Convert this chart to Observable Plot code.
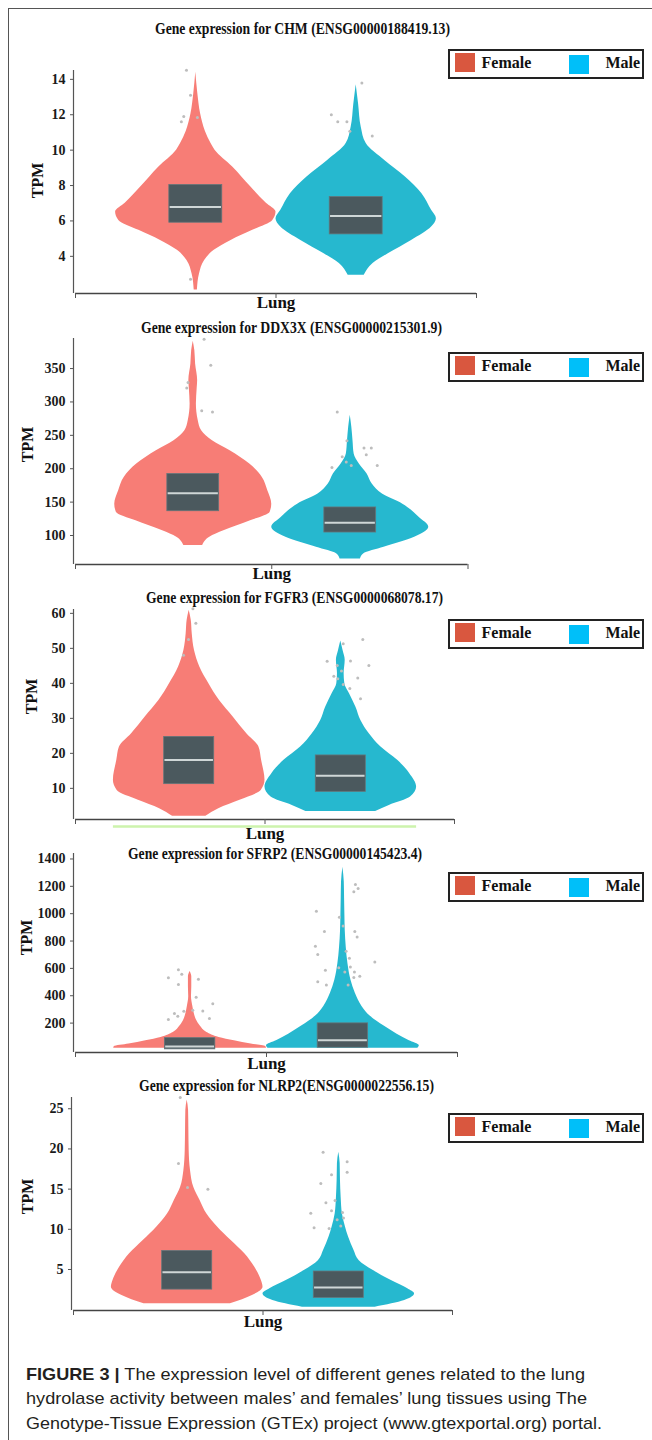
<!DOCTYPE html>
<html><head><meta charset="utf-8">
<script src="https://cdn.jsdelivr.net/npm/d3@7"></script>
<script src="https://cdn.jsdelivr.net/npm/@observablehq/plot@0.6"></script>
<style>
body{margin:0;background:#fff;}
#page{position:relative;width:652px;height:1440px;overflow:hidden;background:#fff;}
#frame{position:absolute;left:8px;top:8px;width:700px;height:1500px;border-left:1.5px solid #555;border-top:1.5px solid #555;}
.panel{position:absolute;left:0;}
.legend{position:absolute;left:448px;width:196px;height:30px;border:2px solid #222;box-sizing:border-box;background:#fff;}
.legend .sw{position:absolute;}
.legend .lab{position:absolute;font:bold 16px 'Liberation Serif',serif;line-height:normal;color:#111;white-space:nowrap;}
</style></head>
<body><div id="page"><div id="frame"></div></div>
<script>
// ---------- data ----------
const sexes = ["Female", "Male"];
const tissue = "Lung";
const geneTitles = [
  "Gene expression for CHM (ENSG00000188419.13)",
  "Gene expression for DDX3X (ENSG00000215301.9)",
  "Gene expression for FGFR3 (ENSG0000068078.17)",
  "Gene expression for SFRP2 (ENSG00000145423.4)",
  "Gene expression for NLRP2(ENSG0000022556.15)"
];
const yTicksCHM = [4, 6, 8, 10, 12, 14];
const yTicksDDX3X = [100, 150, 200, 250, 300, 350];
const yTicksFGFR3 = [10, 20, 30, 40, 50, 60];
const yTicksSFRP2 = [200, 400, 600, 800, 1000, 1200, 1400];
const yTicksNLRP2 = [5, 10, 15, 20, 25];

// violin density profiles: [TPM, relative half-width]
const chmFemale = [[14.4,0],[13.2,0.025],[12.06,0.06],[11.06,0.12],[10.37,0.19],[10,0.24],[9.05,0.46],[7.9,0.69],[7.0,0.88],[6.5,1.0],[6.03,0.96],[5.47,0.71],[4.9,0.44],[4.34,0.23],[3.77,0.11],[3.0,0.046],[2.1,0.02]];
const chmMale = [[13.7,0],[12.6,0.03],[11.3,0.063],[10.37,0.125],[9.4,0.36],[8.5,0.61],[7.54,0.82],[6.6,0.94],[6.13,1.0],[5.66,0.94],[4.9,0.69],[4.15,0.40],[3.6,0.21],[2.93,0.10]];
const ddx3xFemale = [[391,0],[377,0.02],[357,0.03],[332,0.056],[320,0.05],[297,0.04],[272,0.064],[257,0.107],[242,0.245],[227,0.47],[207,0.72],[187,0.88],[167,0.95],[147,1.0],[135,0.98],[122,0.73],[107,0.39],[97.5,0.21],[85,0.12]];
const ddx3xMale = [[280,0],[262,0.02],[242,0.035],[222,0.05],[207,0.116],[192,0.215],[177,0.28],[162,0.41],[147,0.67],[127,0.88],[112.5,1.0],[97.5,0.82],[82.5,0.43],[72.5,0.17],[65,0.13]];
const fgfr3Female = [[60.9,0],[58,0.027],[54.2,0.04],[49.4,0.07],[44.7,0.14],[39.9,0.26],[35.1,0.40],[30.4,0.58],[25.6,0.76],[21.8,0.92],[18,0.955],[12.3,1.0],[9.4,0.95],[6.6,0.67],[4.2,0.39],[2.0,0.22]];
const fgfr3Male = [[52.1,0],[49.4,0.03],[46.6,0.058],[42.8,0.044],[39.9,0.053],[37,0.115],[33.2,0.2],[29.4,0.265],[25.6,0.376],[21.8,0.53],[18,0.75],[14.2,0.91],[10.4,1.0],[7.5,0.92],[5.1,0.64],[3.4,0.46]];
const sfrp2Female = [[578,0],[538,0.022],[466,0.022],[394,0.018],[322,0.036],[274,0.053],[226,0.08],[178,0.133],[131,0.22],[95,0.38],[71,0.58],[47,0.8],[28,0.99],[16,1.0]];
const sfrp2Male = [[1340,0],[1232,0.018],[1113,0.022],[993,0.026],[873,0.031],[753,0.044],[634,0.066],[514,0.106],[418,0.163],[322,0.25],[250,0.36],[178,0.54],[119,0.71],[71,0.87],[35,1.0],[16,0.98]];
const nlrp2Female = [[26.1,0],[24.8,0.018],[22.3,0.022],[19.8,0.026],[17.3,0.044],[15.2,0.088],[13.6,0.17],[11.9,0.26],[10.3,0.40],[8.6,0.58],[6.95,0.76],[5.3,0.89],[3.6,0.98],[2.8,1.0],[1.76,0.86],[0.73,0.57]];
const nlrp2Male = [[19.6,0],[18.2,0.018],[16.1,0.022],[14,0.031],[11.9,0.048],[10.3,0.088],[9.0,0.13],[7.4,0.2],[6.1,0.27],[4.9,0.45],[3.6,0.70],[2.6,0.91],[1.97,1.0],[1.14,0.87],[0.31,0.48]];

// box statistics [q1, median, q3] for Female, Male
const chmBoxes = [[5.90, 6.79, 8.03], [5.24, 6.28, 7.35]];
const ddx3xBoxes = [[136.4, 163.4, 192], [104.5, 119, 142]];
const fgfr3Boxes = [[11.2, 18.1, 24.7], [9.0, 13.6, 19.4]];
const sfrp2Boxes = [[8, 28, 90], [20, 75, 198]];
const nlrp2Boxes = [[2.5, 4.67, 7.3], [1.47, 2.76, 4.75]];

// outlier samples [jitter offset from violin centre, TPM]
const chmOutFemale = [[-0.116,14.52],[-0.066,13.1],[-0.15,11.9],[-0.18,11.6],[0.02,11.85],[-0.066,2.7]];
const chmOutMale = [[0.071,13.8],[-0.31,12.0],[-0.23,11.6],[-0.116,11.6],[-0.079,11.07],[0.2,10.8]];
const ddx3xOutFemale = [[0.138,394],[0.223,355],[-0.066,329],[-0.083,321],[0.108,287],[0.245,285]];
const ddx3xOutMale = [[-0.166,285],[-0.042,242],[0.175,231],[0.268,231],[0.204,221],[-0.102,218],[-0.233,202],[0.013,205],[0.344,205],[-0.051,210]];
const fgfr3OutFemale = [[0.049,61.3],[0.088,57.2],[-0.009,52.5],[-0.075,48]];
const fgfr3OutMale = [[0.29,52.5],[0.032,51.3],[-0.18,46.3],[-0.047,45.1],[0.128,46.4],[0.37,45.1],[0.009,43.5],[-0.092,42],[-0.04,41.3],[0.224,41.5],[0.032,39.7],[0.119,38.5],[0.26,35.6]];
const sfrp2OutFemale = [[-0.153,590],[-0.109,557],[-0.284,531],[0.109,521],[-0.153,483],[0.079,389],[0.297,341],[-0.205,270],[-0.161,250],[-0.082,286],[0.035,293],[0.166,289],[-0.284,226],[0.253,233]];
const sfrp2OutMale = [[0.164,1213],[0.199,1184],[0.143,1160],[-0.347,1017],[-0.046,974],[0.003,909],[-0.242,869],[0.156,869],[0.186,830],[-0.36,761],[-0.329,701],[0.042,725],[0.085,674],[0.418,646],[-0.229,586],[-0.054,605],[0.098,610],[0.025,574],[0.151,574],[0.221,543],[0.143,533],[-0.329,502],[-0.216,478],[0.068,478]];
const nlrp2OutFemale = [[-0.092,26.4],[-0.115,18.2],[0.273,15.0],[0.004,15.2]];
const nlrp2OutMale = [[-0.207,19.6],[0.11,18.4],[0.11,17.1],[-0.096,16.8],[-0.237,15.7],[-0.049,13.6],[-0.17,13.3],[-0.096,12.3],[0.049,12.1],[-0.37,12.0],[0.062,11.4],[-0.022,11.2],[-0.326,10.2],[-0.128,10.1],[0.026,10.4]];

const captionLines = [
  ["FIGURE 3 |", " The expression level of different genes related to the lung"],
  ["", "hydrolase activity between males\u2019 and females\u2019 lung tissues using The"],
  ["", "Genotype-Tissue Expression (GTEx) project (www.gtexportal.org) portal."]
];

// ---------- assembled per gene ----------
const genes = [
  {title: geneTitles[0], ticks: yTicksCHM, profiles: [chmFemale, chmMale], boxes: chmBoxes, outliers: [chmOutFemale, chmOutMale]},
  {title: geneTitles[1], ticks: yTicksDDX3X, profiles: [ddx3xFemale, ddx3xMale], boxes: ddx3xBoxes, outliers: [ddx3xOutFemale, ddx3xOutMale]},
  {title: geneTitles[2], ticks: yTicksFGFR3, profiles: [fgfr3Female, fgfr3Male], boxes: fgfr3Boxes, outliers: [fgfr3OutFemale, fgfr3OutMale]},
  {title: geneTitles[3], ticks: yTicksSFRP2, profiles: [sfrp2Female, sfrp2Male], boxes: sfrp2Boxes, outliers: [sfrp2OutFemale, sfrp2OutMale]},
  {title: geneTitles[4], ticks: yTicksNLRP2, profiles: [nlrp2Female, nlrp2Male], boxes: nlrp2Boxes, outliers: [nlrp2OutFemale, nlrp2OutMale]}
];

// ---------- layout & style ----------
const violinFill = ["#f77d76", "#26b8cf"];
const legendFill = ["#d9573f", "#00bff9"];
const boxFill = "#4b595e";
const medianStroke = "#cfd7d7";
const centers = [-1, 1];
const boxHalf = 0.33;
const layout = [
  {yTop: 70, xAxisY: 293, ml: 75, axisLen: 401, domain: [1.9, 14.5], titleX: 302, titleBase: 34.5, titleW: 295, legendTop: 49, tpmX: 37.5, tpmY: 180, lungDy: 14},
  {yTop: 338, xAxisY: 564, ml: 75, axisLen: 392.5, domain: [56.6, 395], titleX: 291, titleBase: 333.5, titleW: 301, legendTop: 352, tpmX: 27.5, tpmY: 444, lungDy: 14},
  {yTop: 609, xAxisY: 819, ml: 75, axisLen: 379, domain: [1.1, 61.1], titleX: 294, titleBase: 603.5, titleW: 297, legendTop: 619, tpmX: 31, tpmY: 696, lungDy: 19, green: true},
  {yTop: 853, xAxisY: 1052, ml: 75, axisLen: 382, domain: [-15, 1440], titleX: 275, titleBase: 859, titleW: 294, legendTop: 872, tpmX: 26, tpmY: 937, lungDy: 16},
  {yTop: 1097, xAxisY: 1310, ml: 73, axisLen: 379, domain: [-0.1, 26.4], titleX: 286, titleBase: 1091.5, titleW: 295, legendTop: 1113, tpmX: 27, tpmY: 1196, lungDy: 16}
];

const page = document.getElementById("page");
const SERIF = "'Liberation Serif', 'Times New Roman', serif";
const SANS = "'Liberation Sans', Arial, sans-serif";

function placeText(html, o) {
  const el = document.createElement("div");
  el.innerHTML = html;
  const asc = o.family === SANS ? 0.905 : 0.891;
  Object.assign(el.style, {position: "absolute", whiteSpace: "nowrap", font: `${o.weight || "normal"} ${o.fs}px ${o.family}`,
    lineHeight: "normal", color: o.color || "#111", top: (o.base - asc * o.fs) + "px", left: "0px"});
  page.appendChild(el);
  const w = el.getBoundingClientRect().width;
  const s = o.width ? o.width / w : 1;
  const left = o.anchor === "middle" ? o.x - (o.width || w) / 2 : o.x;
  el.style.left = left + "px";
  el.style.transformOrigin = "0 0";
  el.style.transform = `scaleX(${s})`;
  return el;
}

genes.forEach((g, i) => {
  const L = layout[i];
  const mt = 12, mb = 34, mr = 12;
  const height = mt + (L.xAxisY - L.yTop) + mb;
  const width = L.ml + L.axisLen + mr;
  const marks = [];
  g.profiles.forEach((p, s) => {
    const data = d3.sort(p.map(([v, w]) => ({v, w})), d => d.v);
    marks.push(Plot.areaX(data, {y: "v", x1: d => centers[s] - d.w, x2: d => centers[s] + d.w, fill: violinFill[s], curve: "monotone-y"}));
  });
  const boxData = g.boxes.map((b, s) => ({s, q1: b[0], med: b[1], q3: b[2]}));
  marks.push(Plot.rect(boxData, {x1: d => centers[d.s] - boxHalf, x2: d => centers[d.s] + boxHalf, y1: "q1", y2: "q3", fill: boxFill, stroke: "#64757a", strokeWidth: 0.8}));
  marks.push(Plot.ruleY(boxData, {y: "med", x1: d => centers[d.s] - boxHalf + 0.01, x2: d => centers[d.s] + boxHalf - 0.01, stroke: medianStroke, strokeWidth: 2}));
  g.outliers.forEach((o, s) => {
    marks.push(Plot.dot(o, {x: d => centers[s] + d[0], y: d => d[1], r: 1.5, fill: "#bdbdbd", stroke: null}));
  });
  // axes
  marks.push(Plot.ruleX([-2.5], {dx: -2, stroke: "#555", strokeWidth: 1.2}));
  marks.push(Plot.axisY({ticks: g.ticks, tickFormat: d3.format("d"), tickSize: 3, tickPadding: 5, dx: -2, label: null, stroke: "#555"}));
  marks.push(Plot.ruleY([L.domain[0]], {x1: -2.5, x2: 2.5, stroke: "#444", strokeWidth: 1.5}));
  marks.push(Plot.axisX({ticks: [-2.5, 0, 2.5], tickSize: 5, tickFormat: () => "", label: null, stroke: "#555"}));
  if (L.green) marks.push(Plot.ruleY([L.domain[0]], {x1: -2, x2: 2, dy: 7, stroke: "#cdf3ad", strokeWidth: 2.5}));
  marks.push(Plot.text([tissue], {x: () => 0, frameAnchor: "bottom", text: d => d, lineAnchor: "bottom", dy: L.lungDy, fontSize: 17, fontWeight: "bold", fill: "#111"}));
  marks.push(Plot.text(["TPM"], {frameAnchor: "left", text: d => d, textAnchor: "middle", rotate: -90,
    dx: L.tpmX - L.ml, dy: L.tpmY - (L.yTop + L.xAxisY) / 2, fontSize: 16, fontWeight: "bold", fill: "#111"}));

  const chart = Plot.plot({
    width, height, marginTop: mt, marginBottom: mb, marginLeft: L.ml, marginRight: mr,
    x: {domain: [-2.5, 2.5]},
    y: {domain: L.domain},
    style: {fontFamily: SERIF, fontSize: "14px", fontWeight: "bold", color: "#1a1a1a", background: "transparent", overflow: "visible"},
    marks
  });
  const wrap = document.createElement("div");
  wrap.className = "panel";
  wrap.style.top = (L.yTop - mt) + "px";
  wrap.appendChild(chart);
  page.appendChild(wrap);

  placeText(g.title, {x: L.titleX, base: L.titleBase, fs: 16, family: SERIF, weight: "bold", width: L.titleW, anchor: "middle", color: "#111"});

  // legend
  const lg = document.createElement("div");
  lg.className = "legend";
  lg.style.top = L.legendTop + "px";
  const sw = [[5, 2, 20, 18.5], [119, 3.5, 20, 19]];
  const labX = [31.5, 155.5];
  sexes.forEach((s, k) => {
    const b = document.createElement("div");
    b.className = "sw";
    Object.assign(b.style, {left: sw[k][0] + "px", top: sw[k][1] + "px", width: sw[k][2] + "px", height: sw[k][3] + "px", background: legendFill[k]});
    lg.appendChild(b);
    const t = document.createElement("div");
    t.className = "lab";
    t.textContent = s;
    Object.assign(t.style, {left: labX[k] + "px", top: (17 - 0.891 * 16) + "px"});
    lg.appendChild(t);
  });
  page.appendChild(lg);
});

// caption
const capBase = [1380, 1404.5, 1429.5];
const capW = [559, 561, 576];
captionLines.forEach((ln, k) => {
  const html = (ln[0] ? `<b>${ln[0]}</b>` : "") + ln[1];
  placeText(html, {x: 26, base: capBase[k], fs: 17, family: SANS, width: capW[k], color: "#231f20"});
});
</script>
</body></html>
